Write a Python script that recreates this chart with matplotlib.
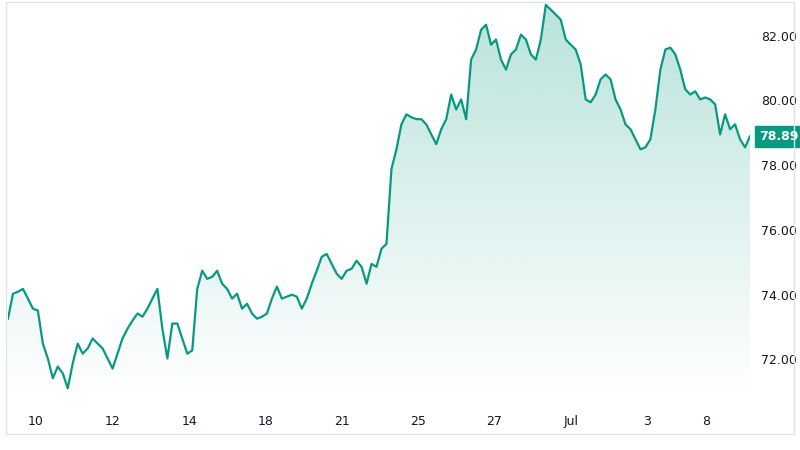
import matplotlib
matplotlib.use("Agg")
import matplotlib.pyplot as plt
import numpy as np
from matplotlib.patches import Polygon

values = [73.26,74.03,74.09,74.18,73.88,73.57,73.51,72.49,72.03,71.42,71.78,71.57,71.11,71.88,72.49,72.18,72.34,72.65,72.49,72.34,72.03,71.72,72.18,72.65,72.95,73.2,73.42,73.32,73.57,73.88,74.18,72.95,72.03,73.11,73.11,72.65,72.18,72.28,74.18,74.74,74.49,74.55,74.74,74.34,74.18,73.88,74.03,73.57,73.72,73.42,73.26,73.32,73.42,73.88,74.25,73.88,73.94,74.0,73.94,73.57,73.88,74.34,74.74,75.17,75.26,74.95,74.65,74.49,74.74,74.8,75.05,74.86,74.34,74.95,74.86,75.42,75.57,77.88,78.49,79.26,79.57,79.48,79.42,79.42,79.26,78.95,78.65,79.11,79.42,80.18,79.72,80.03,79.42,81.26,81.57,82.18,82.34,81.72,81.88,81.26,80.95,81.42,81.57,82.03,81.88,81.42,81.26,81.88,82.95,82.8,82.65,82.49,81.88,81.72,81.57,81.11,80.03,79.94,80.18,80.65,80.8,80.65,80.03,79.72,79.26,79.11,78.8,78.49,78.55,78.8,79.72,80.95,81.57,81.63,81.42,80.95,80.34,80.18,80.28,80.03,80.09,80.03,79.88,78.95,79.57,79.11,79.26,78.8,78.55,78.89]
tick_pos = [5.6,21,36.4,51.8,67,82.4,97.6,113,128.4,140.2]
tick_labels = ["10","12","14","18","21","25","27","Jul","3","8"]
y_ticks = [72,74,76,78,80,82]

line_c = "#089981"
x = np.arange(len(values))
fig = plt.figure(figsize=(8,4.5), dpi=100)
ax = fig.add_axes([0.01,0.122,0.9275,0.878])
ymin, ymax = 70.9, 83.1
ax.set_xlim(0, len(values)-1)
ax.set_ylim(ymin, ymax)
grad = np.linspace(0.28, 0.0, 256).reshape(-1,1)
from matplotlib.colors import LinearSegmentedColormap
cmap = LinearSegmentedColormap.from_list("g", [(1,1,1,1),(0.03,0.6,0.5,1)])
im = ax.imshow(grad, extent=[0,len(values)-1,ymin,max(values)], origin="upper", aspect="auto", cmap=cmap, vmin=0, vmax=1, zorder=1)
poly = Polygon(np.column_stack([np.r_[x, x[-1], x[0]], np.r_[values, ymin, ymin]]), closed=True, facecolor="none", edgecolor="none")
ax.add_patch(poly)
im.set_clip_path(poly)
ax.plot(x, values, color=line_c, lw=1.6, zorder=3)
for s in ax.spines.values():
    s.set_visible(False)
ax.yaxis.tick_right()
ax.set_yticks(y_ticks)
ax.set_yticklabels([f"{v:.2f}" for v in y_ticks], fontsize=9, color="#131722")
ax.set_xticks(tick_pos)
ax.set_xticklabels(tick_labels, fontsize=9, color="#131722")
ax.tick_params(length=0, pad=14)
ax.tick_params(axis="y", pad=8)
ax.text(1.012, (values[-1]-ymin)/(ymax-ymin), f"{values[-1]:.2f}", transform=ax.transAxes,
        fontsize=9, color="white", fontweight="bold", va="center", ha="left",
        bbox=dict(boxstyle="square,pad=0.3", fc=line_c, ec=line_c))
fig.patches.append(plt.Rectangle((0.008,0.035),0.984,0.96, transform=fig.transFigure, fill=False, ec="#e0e3eb", lw=1))
fig.savefig("out.png", dpi=100)
